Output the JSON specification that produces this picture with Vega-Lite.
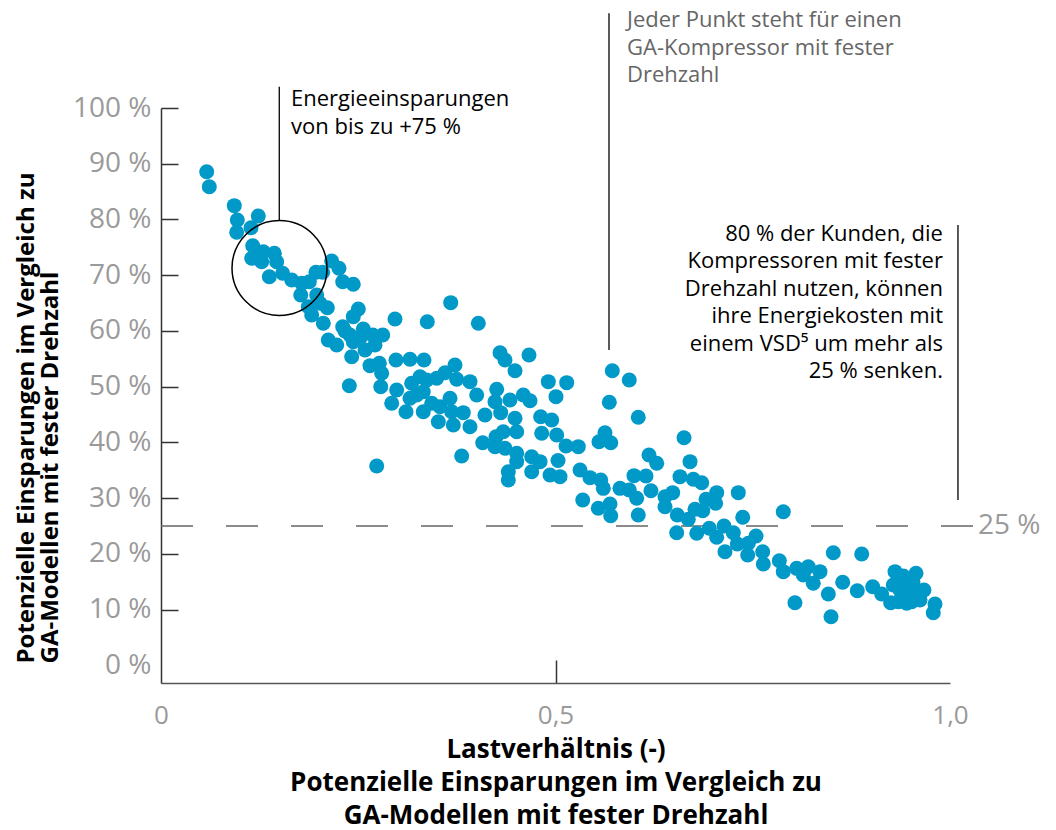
{
  "$schema": "https://vega.github.io/schema/vega-lite/v6.json",
  "width": 789,
  "height": 575,
  "autosize": {"type": "none"},
  "padding": {"left": 161, "top": 108, "right": 106, "bottom": 147},
  "config": {"view": {"stroke": null}, "font": "Open Sans"},
  "datasets": {
    "pts": [
      {"x":0.0579,"y":88.57},{"x":0.0612,"y":85.88},{"x":0.0929,"y":82.48},{"x":0.0967,"y":79.91},{"x":0.0959,"y":77.70},
      {"x":0.1233,"y":80.63},{"x":0.1141,"y":78.53},{"x":0.1162,"y":75.30},{"x":0.1150,"y":73.04},{"x":0.1297,"y":74.22},
      {"x":0.1436,"y":73.94},{"x":0.1466,"y":72.43},{"x":0.1276,"y":72.43},{"x":0.1373,"y":69.74},{"x":0.1542,"y":70.35},
      {"x":0.1657,"y":69.15},{"x":0.1783,"y":68.56},{"x":0.1880,"y":68.84},{"x":0.1964,"y":70.53},{"x":0.2049,"y":70.53},
      {"x":0.2163,"y":72.56},{"x":0.2256,"y":71.25},{"x":0.2303,"y":68.84},{"x":0.2437,"y":68.38},{"x":0.1771,"y":66.46},
      {"x":0.1973,"y":66.46},{"x":0.2015,"y":64.97},{"x":0.2108,"y":64.18},{"x":0.1867,"y":64.36},{"x":0.1910,"y":62.87},
      {"x":0.2057,"y":61.38},{"x":0.2501,"y":63.95},{"x":0.2437,"y":62.57},{"x":0.2966,"y":62.15},{"x":0.2303,"y":60.77},
      {"x":0.2120,"y":58.39},{"x":0.2227,"y":57.49},{"x":0.2395,"y":59.28},{"x":0.2564,"y":60.36},{"x":0.2683,"y":59.28},
      {"x":0.2810,"y":59.28},{"x":0.2437,"y":58.08},{"x":0.2586,"y":56.59},{"x":0.2712,"y":57.49},{"x":0.2417,"y":55.39},
      {"x":0.2649,"y":53.78},{"x":0.2767,"y":54.21},{"x":0.2797,"y":52.41},{"x":0.2978,"y":54.80},{"x":0.2387,"y":50.19},
      {"x":0.2785,"y":50.01},{"x":0.2987,"y":49.42},{"x":0.2924,"y":47.03},{"x":0.3672,"y":65.08},{"x":0.3375,"y":61.67},
      {"x":0.4022,"y":61.38},{"x":0.3156,"y":54.92},{"x":0.3333,"y":54.80},{"x":0.3726,"y":53.90},{"x":0.4297,"y":56.11},
      {"x":0.4360,"y":54.80},{"x":0.4664,"y":55.70},{"x":0.4487,"y":52.88},{"x":0.3177,"y":50.62},{"x":0.3283,"y":51.80},
      {"x":0.3368,"y":51.21},{"x":0.3324,"y":49.11},{"x":0.3241,"y":48.52},{"x":0.3494,"y":51.52},{"x":0.3600,"y":52.52},
      {"x":0.3748,"y":51.34},{"x":0.3916,"y":50.91},{"x":0.4001,"y":48.52},{"x":0.4255,"y":49.54},{"x":0.4909,"y":50.91},
      {"x":0.4592,"y":48.52},{"x":0.4677,"y":47.50},{"x":0.5006,"y":48.22},{"x":0.3105,"y":45.52},{"x":0.3156,"y":47.93},
      {"x":0.3324,"y":45.52},{"x":0.3431,"y":47.03},{"x":0.3536,"y":46.42},{"x":0.3663,"y":47.93},{"x":0.3684,"y":45.52},
      {"x":0.3831,"y":45.35},{"x":0.3515,"y":43.73},{"x":0.3705,"y":43.14},{"x":0.3916,"y":42.83},{"x":0.4106,"y":44.93},
      {"x":0.4233,"y":47.32},{"x":0.4423,"y":47.62},{"x":0.4305,"y":45.35},{"x":0.4487,"y":44.34},{"x":0.4812,"y":44.63},
      {"x":0.4952,"y":44.04},{"x":0.4246,"y":41.04},{"x":0.4338,"y":41.94},{"x":0.4508,"y":41.94},{"x":0.4825,"y":41.65},
      {"x":0.5015,"y":41.35},{"x":0.4077,"y":39.96},{"x":0.4233,"y":39.25},{"x":0.4360,"y":38.96},{"x":0.3811,"y":37.58},
      {"x":0.2734,"y":35.79},{"x":0.4508,"y":38.06},{"x":0.4508,"y":36.56},{"x":0.4698,"y":37.45},{"x":0.4804,"y":36.56},
      {"x":0.4698,"y":34.76},{"x":0.4402,"y":34.76},{"x":0.4402,"y":33.27},{"x":0.4930,"y":34.17},{"x":0.5057,"y":33.87},
      {"x":0.5032,"y":36.77},{"x":0.5720,"y":52.88},{"x":0.5935,"y":51.21},{"x":0.5142,"y":50.73},{"x":0.5682,"y":47.21},
      {"x":0.6049,"y":44.52},{"x":0.5133,"y":39.37},{"x":0.5289,"y":39.25},{"x":0.5627,"y":41.76},{"x":0.5551,"y":40.14},
      {"x":0.5700,"y":39.96},{"x":0.5311,"y":35.07},{"x":0.5437,"y":33.69},{"x":0.5573,"y":33.27},{"x":0.5606,"y":31.78},
      {"x":0.5345,"y":29.69},{"x":0.5542,"y":28.20},{"x":0.5691,"y":28.97},{"x":0.5700,"y":26.87},{"x":0.5817,"y":31.78},
      {"x":0.5935,"y":31.48},{"x":0.6029,"y":29.99},{"x":0.5995,"y":34.05},{"x":0.6147,"y":33.99},{"x":0.6185,"y":37.76},
      {"x":0.6283,"y":36.27},{"x":0.6210,"y":31.35},{"x":0.6049,"y":27.00},{"x":0.6388,"y":30.28},{"x":0.6485,"y":31.00},
      {"x":0.6388,"y":28.48},{"x":0.6629,"y":40.86},{"x":0.6705,"y":36.56},{"x":0.6578,"y":33.87},{"x":0.6747,"y":33.40},
      {"x":0.6544,"y":27.00},{"x":0.6683,"y":26.22},{"x":0.6768,"y":28.02},{"x":0.6536,"y":23.82},{"x":0.6790,"y":23.71},
      {"x":0.6853,"y":32.79},{"x":0.6908,"y":29.81},{"x":0.7043,"y":31.00},{"x":0.7030,"y":29.09},{"x":0.6866,"y":27.77},
      {"x":0.7317,"y":31.00},{"x":0.6949,"y":24.61},{"x":0.7136,"y":25.02},{"x":0.7254,"y":23.82},{"x":0.7043,"y":23.00},
      {"x":0.7373,"y":26.58},{"x":0.7887,"y":27.59},{"x":0.7148,"y":20.41},{"x":0.7304,"y":21.79},{"x":0.7444,"y":21.92},
      {"x":0.7541,"y":23.23},{"x":0.7436,"y":19.82},{"x":0.7626,"y":20.41},{"x":0.7634,"y":18.21},{"x":0.7837,"y":18.80},
      {"x":0.7887,"y":16.83},{"x":0.8057,"y":17.43},{"x":0.8204,"y":17.72},{"x":0.8352,"y":16.83},{"x":0.8141,"y":16.23},
      {"x":0.8267,"y":14.74},{"x":0.8035,"y":11.26},{"x":0.8458,"y":12.83},{"x":0.8492,"y":8.75},{"x":0.8521,"y":20.23},
      {"x":0.8881,"y":20.00},{"x":0.8640,"y":14.92},{"x":0.8825,"y":13.42},{"x":0.9020,"y":14.13},{"x":0.9134,"y":12.83},
      {"x":0.9248,"y":11.26},{"x":0.9303,"y":16.83},{"x":0.9408,"y":16.05},{"x":0.9569,"y":16.54},{"x":0.9281,"y":14.44},
      {"x":0.9366,"y":13.54},{"x":0.9471,"y":14.13},{"x":0.9430,"y":12.05},{"x":0.9515,"y":11.44},{"x":0.9578,"y":12.95},
      {"x":0.9345,"y":11.44},{"x":0.9451,"y":11.16},{"x":0.9670,"y":13.54},{"x":0.9810,"y":11.03},{"x":0.9788,"y":9.47},
      {"x":0.2332,"y":60.00},{"x":0.2522,"y":58.74},{"x":0.9531,"y":14.98},{"x":0.9620,"y":11.75}
    ]
  },
  "layer": [
    {
      "data": {"values": [{"x": 0, "x2": 1.034, "y": 25}]},
      "mark": {"type": "rule", "color": "#666666", "strokeWidth": 1.5, "strokeDash": [32, 33]},
      "encoding": {
        "x": {"field": "x", "type": "quantitative", "scale": {"domain": [0, 1], "nice": false}},
        "x2": {"field": "x2"},
        "y": {"field": "y", "type": "quantitative", "scale": {"domain": [-3.14, 100], "nice": false}}
      }
    },
    {
      "data": {"name": "pts"},
      "mark": {"type": "point", "filled": true, "opacity": 1, "color": "#0099c8", "size": 225},
      "encoding": {
        "x": {
          "field": "x", "type": "quantitative",
          "scale": {"domain": [0, 1], "nice": false},
          "axis": {
            "values": [0, 0.5, 1],
            "labelExpr": "datum.value == 0 ? '0' : replace(format(datum.value, '.1f'), '.', ',')",
            "labelFlush": false,
            "labelFontSize": 26,
            "labelColor": "#9a9a9a",
            "labelPadding": 42,
            "labelBaseline": "top",
            "tickSize": -23,
            "tickWidth": 1.5,
            "tickColor": {"condition": {"test": "datum.value == 0.5", "value": "#333333"}, "value": "transparent"},
            "domainColor": "#555555",
            "domainWidth": 1.5,
            "grid": false,
            "title": ["Lastverhältnis (-)", "Potenzielle Einsparungen im Vergleich zu", "GA-Modellen mit fester Drehzahl"],
            "titleFontSize": 26,
            "titleFontWeight": "bold",
            "titleColor": "#000000",
            "titleLineHeight": 33,
            "titleAlign": "center",
            "titleBaseline": "alphabetic",
            "titleX": 394.5,
            "titleY": 74
          }
        },
        "y": {
          "field": "y", "type": "quantitative",
          "scale": {"domain": [-3.14, 100], "nice": false},
          "axis": {
            "values": [0, 10, 20, 30, 40, 50, 60, 70, 80, 90, 100],
            "labelExpr": "datum.value + ' %'",
            "labelFontSize": 28,
            "labelColor": "#9a9a9a",
            "labelPadding": 27,
            "labelFlush": false,
            "tickSize": -17,
            "tickWidth": 1.5,
            "tickColor": {"condition": {"test": "datum.value == 0", "value": "transparent"}, "value": "#333333"},
            "domainColor": "#333333",
            "domainWidth": 1.5,
            "grid": false,
            "title": ["Potenzielle Einsparungen im Vergleich zu", "GA-Modellen mit fester Drehzahl"],
            "titleFontSize": 24,
            "titleFontWeight": "bold",
            "titleColor": "#000000",
            "titleLineHeight": 24,
            "titleAngle": -90,
            "titleAlign": "left",
            "titleBaseline": "alphabetic",
            "titleX": -128,
            "titleY": 555
          }
        }
      }
    },
    {
      "data": {"values": [{"x": 0.1502, "y": 71.3}]},
      "mark": {"type": "point", "shape": "circle", "filled": false, "size": 9025, "stroke": "#000000", "strokeWidth": 1.5, "opacity": 1},
      "encoding": {
        "x": {"field": "x", "type": "quantitative"},
        "y": {"field": "y", "type": "quantitative"}
      }
    },
    {
      "data": {"values": [
        {"x": 0.1499, "y": 79.9, "y2": 103.8},
        {"x": 0.5678, "y": 117.0, "y2": 56.6},
        {"x": 1.0101, "y": 79.0, "y2": 29.7}
      ]},
      "mark": {"type": "rule", "color": "#000000", "strokeWidth": 1.3},
      "encoding": {
        "x": {"field": "x", "type": "quantitative"},
        "y": {"field": "y", "type": "quantitative"},
        "y2": {"field": "y2"}
      }
    },
    {
      "data": {"values": [{"x": 0.1648, "y": 100.31, "t": ["Energieeinsparungen", "von bis zu +75 %"]}]},
      "mark": {"type": "text", "align": "left", "baseline": "alphabetic", "fontSize": 22, "lineHeight": 27.5, "color": "#000000"},
      "encoding": {
        "x": {"field": "x", "type": "quantitative"},
        "y": {"field": "y", "type": "quantitative"},
        "text": {"field": "t"}
      }
    },
    {
      "data": {"values": [{"x": 0.5906, "y": 114.44, "t": ["Jeder Punkt steht für einen", "GA-Kompressor mit fester", "Drehzahl"]}]},
      "mark": {"type": "text", "align": "left", "baseline": "alphabetic", "fontSize": 22, "lineHeight": 27.5, "color": "#666666"},
      "encoding": {
        "x": {"field": "x", "type": "quantitative"},
        "y": {"field": "y", "type": "quantitative"},
        "text": {"field": "t"}
      }
    },
    {
      "data": {"values": [{"x": 0.9911, "y": 76.22, "t": ["80 % der Kunden, die", "Kompressoren mit fester", "Drehzahl nutzen, können", "ihre Energiekosten mit", "einem VSD⁵ um mehr als", "25 % senken."]}]},
      "mark": {"type": "text", "align": "right", "baseline": "alphabetic", "fontSize": 22, "lineHeight": 27.5, "color": "#000000"},
      "encoding": {
        "x": {"field": "x", "type": "quantitative"},
        "y": {"field": "y", "type": "quantitative"},
        "text": {"field": "t"}
      }
    },
    {
      "data": {"values": [{"x": 1.0355, "y": 25, "t": "25 %"}]},
      "mark": {"type": "text", "align": "left", "baseline": "middle", "fontSize": 28, "color": "#9a9a9a"},
      "encoding": {
        "x": {"field": "x", "type": "quantitative"},
        "y": {"field": "y", "type": "quantitative"},
        "text": {"field": "t"}
      }
    }
  ]
}
